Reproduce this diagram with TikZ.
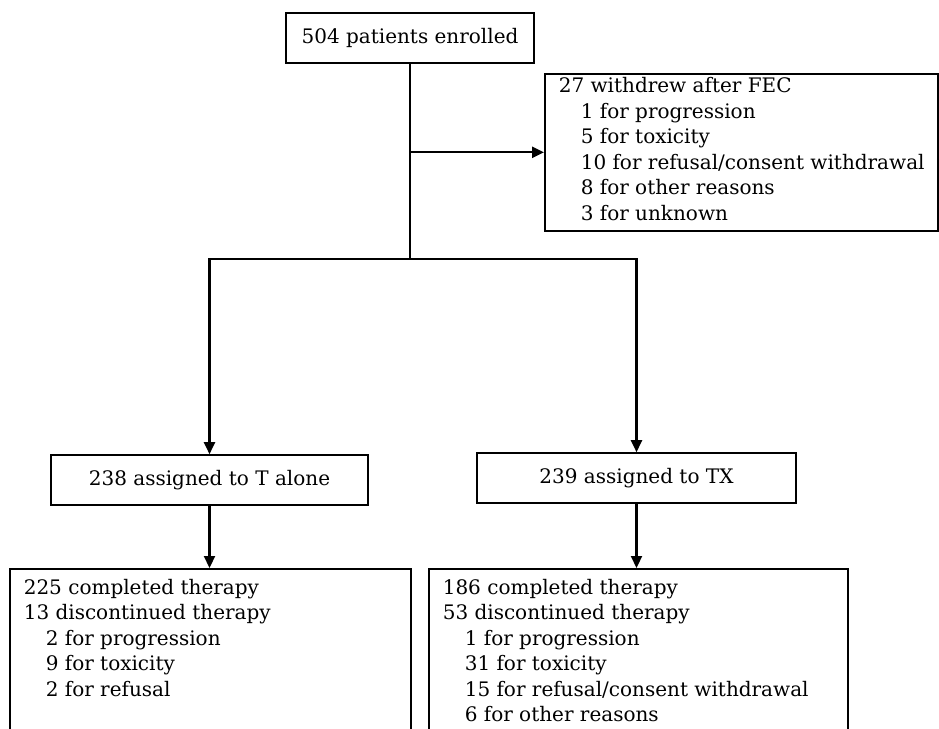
\documentclass[tikz,border=0pt]{standalone}
\usepackage{fontspec}
\setmainfont{DejaVu Serif}
\usetikzlibrary{arrows.meta}
\newcommand{\boxlines}[4]{\parbox[c][#1][t]{#2}{\leftskip=14pt\parindent=0pt\vspace*{#3}#4}}
\newcommand{\indentitem}{\hspace*{22pt}}
\begin{document}
\begin{tikzpicture}[x=1pt,y=-1pt,
  font=\fontsize{20}{25.5}\selectfont,
  box/.style={draw, line width=1.6pt, inner sep=0pt},
  conn/.style={line width=2.2pt},
  arr/.style={conn, -{Triangle[length=12pt,width=11pt]}}]
\useasboundingbox (0,0) rectangle (939,728);
\clip (0,0) rectangle (939,728);

\node[box, minimum width=248pt, minimum height=50pt] (enr) at (410,38) {504 patients enrolled};

\node[box, anchor=north west] (fec) at (544,73) {\boxlines{157pt}{393pt}{4pt}{%
27 withdrew after FEC\\
\indentitem 1 for progression\\
\indentitem 5 for toxicity\\
\indentitem 10 for refusal/consent withdrawal\\
\indentitem 8 for other reasons\\
\indentitem 3 for unknown}};

\node[box, minimum width=317pt, minimum height=50pt] (ta) at (209.5,480) {238 assigned to T alone};
\node[box, minimum width=319pt, minimum height=50pt] (tx) at (636.5,478) {239 assigned to TX};

\node[box, anchor=north west] (ca) at (9,568) {\boxlines{200pt}{401pt}{10pt}{%
225 completed therapy\\
13 discontinued therapy\\
\indentitem 2 for progression\\
\indentitem 9 for toxicity\\
\indentitem 2 for refusal}};

\node[box, anchor=north west] (cx) at (428,568) {\boxlines{200pt}{419pt}{10pt}{%
186 completed therapy\\
53 discontinued therapy\\
\indentitem 1 for progression\\
\indentitem 31 for toxicity\\
\indentitem 15 for refusal/consent withdrawal\\
\indentitem 6 for other reasons}};

\coordinate (split) at (410,259);
\draw[conn] (enr.south) -- (split);
\draw[arr] (enr.south |- fec.west) -- (fec.west);
\draw[arr] (split) -| (ta.north);
\draw[arr] (split) -| (tx.north);
\draw[arr] (ta.south) -- (ta.south |- ca.north);
\draw[arr] (tx.south) -- (tx.south |- cx.north);
\end{tikzpicture}
\end{document}
